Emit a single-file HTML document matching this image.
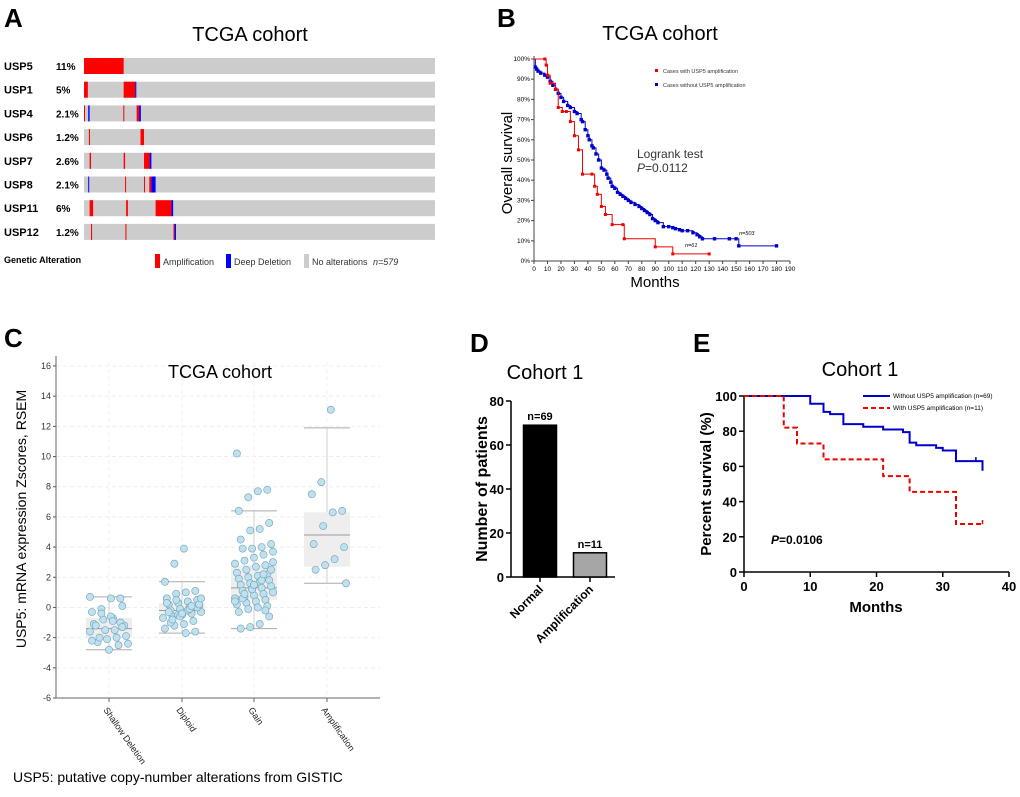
<!DOCTYPE html>
<html><head><meta charset="utf-8"><style>
body{margin:0;background:#fff}
svg{display:block;font-family:"Liberation Sans",Arial,sans-serif}
</style></head><body>
<svg id="fig" width="1020" height="797" viewBox="0 0 1020 797" xmlns="http://www.w3.org/2000/svg">
<g id="pa">
<text x="4" y="27" font-size="26" font-weight="bold">A</text>
<text x="250" y="41" font-size="20" text-anchor="middle">TCGA cohort</text>
</g>
<g id="pb">
<text x="497" y="27" font-size="26" font-weight="bold">B</text>
<text x="660" y="40" font-size="20" text-anchor="middle">TCGA cohort</text>
</g>
<g id="pc">
<text x="4" y="347" font-size="26" font-weight="bold">C</text>
</g>
<g id="pd">
<text x="470" y="352" font-size="26" font-weight="bold">D</text>
<text x="545" y="379" font-size="20" text-anchor="middle">Cohort 1</text>
</g>
<g id="pe">
<text x="693" y="352" font-size="26" font-weight="bold">E</text>
<text x="860" y="376" font-size="20" text-anchor="middle">Cohort 1</text>
</g>
</svg>
<script>
// ---- Panel A data ----
const genes=["USP5","USP1","USP4","USP6","USP7","USP8","USP11","USP12"];
const genePct=["11%","5%","2.1%","1.2%","2.6%","2.1%","6%","1.2%"];
// alteration segments: [startFrac, endFrac, type] a=amp d=deep
const geneAlts=[
 [[0,0.113,"a"]],
 [[0,0.011,"a"],[0.113,0.146,"a"],[0.146,0.149,"d"]],
 [[0,0.002,"a"],[0.012,0.016,"d"],[0.112,0.114,"a"],[0.150,0.157,"a"],[0.157,0.162,"d"]],
 [[0.014,0.017,"a"],[0.161,0.171,"a"]],
 [[0.016,0.020,"a"],[0.113,0.117,"a"],[0.171,0.187,"a"],[0.187,0.192,"d"]],
 [[0.012,0.014,"d"],[0.117,0.119,"a"],[0.171,0.173,"a"],[0.186,0.192,"a"],[0.192,0.204,"d"]],
 [[0.016,0.026,"a"],[0.120,0.125,"a"],[0.204,0.249,"a"],[0.249,0.254,"d"]],
 [[0.020,0.023,"a"],[0.118,0.121,"a"],[0.255,0.258,"a"],[0.258,0.262,"d"]]
];
// ---- Panel B data ----
const tcgaAmpT=[0,8,9,10,12,16,18,21,24,27,30,33,36,43,45,47,50,53,58,66,67,90,103,130];
const tcgaAmpS=[100,100,97,92,88,85,76,74,74,69,62,55,43,43,37,33,27,23,18,18,11,7,3.5,3.5];
const tcgaNoT=[0,1,2,3,5,8,10,12,14,16,18,20,22,25,27,30,32,35,36,38,40,41,43,44,46,48,50,52,54,55,57,58,60,62,64,66,68,70,72,75,78,80,82,84,86,88,90,92,96,100,103,105,108,110,114,118,121,123,125,134,145,150,152,180];
const tcgaNoS=[100,96,95,94,93,92,91,89,87,85,83,81,79,77,76,74,73,70,69,65,62,60,57,56,53,50,46,45,43,41,39,37,36,34,33,32,31,30,29,28,27,26,25,24,23,21,20,19,17,17,16.5,16,15.5,15,15,14,13,12,11,11,11,11,7.5,7.5];
const bXTicks=[0,10,20,30,40,50,60,70,80,90,100,110,120,130,140,150,160,170,180,190];
const bYTicks=[0,10,20,30,40,50,60,70,80,90,100];
// ---- Panel C data ----
const cCats=["Shallow Deletion","Diploid","Gain","Amplification"];
const cVals=[
 [0.7,0.6,0.6,-0.1,-0.3,0.1,-0.7,-0.8,-1.1,-1.2,-1.5,-1.5,-1.2,-1.9,-2.0,-2.1,-2.3,-2.4,-2.5,-2.8,-2.0,-1.6,-1.0,-0.6,-0.4,-2.2,-1.3,-0.9],
 [3.9,2.9,1.7,1.1,1.0,0.9,0.6,0.5,0.4,0.3,0.2,0.1,0,-0.1,-0.2,-0.3,-0.4,-0.5,-0.6,-0.7,-0.9,-1.1,-1.2,-1.4,-1.6,-1.7,0.5,0.3,0,-0.2,-0.5,-0.3,0.2,-0.1,-0.6,-1.0,0.6,0.1,-0.4,-0.8],
 [10.2,7.8,7.7,7.3,6.4,5.6,5.2,5.1,4.5,4.2,4.0,3.9,3.9,3.7,3.5,3.3,3.1,2.9,2.8,2.7,2.5,2.3,2.2,2.1,2.0,1.9,1.8,1.7,1.6,1.5,1.4,1.3,1.2,1.1,1.0,0.9,0.8,0.7,0.6,0.5,0.4,0.3,0.2,0.1,0.0,-0.1,-0.3,-0.6,-1.1,-1.3,-1.4,2.5,1.8,1.2,0.6,3.0,2.2,1.5,0.9,0.4,-0.2],
 [13.1,8.3,7.5,6.4,6.3,5.4,4.2,4.0,3.2,2.8,2.5,1.6]
];
const cQ1=[-2.0,-0.5,0.5,2.7];
const cMed=[-1.4,-0.2,1.3,4.8];
const cQ3=[-0.7,0.3,2.8,6.3];
const cLo=[-2.8,-1.7,-1.4,1.6];
const cHi=[0.7,1.7,6.4,11.9];
const cYTicks=[-6,-4,-2,0,2,4,6,8,10,12,14,16];
// ---- Panel D data ----
const dCats=["Normal","Amplification"];
const dVals=[69,11];
const dLabels=["n=69","n=11"];
const dYTicks=[0,20,40,60,80];
// ---- Panel E data ----
const eNoT=[0,10,12,13,15,18,21,24,25,26,29,30,32,36];
const eNoS=[100,95.6,91,89.7,84,82.5,81,79.5,73.5,72,70.5,69,63,57.5];
const eAmpT=[0,6,8,12,21,25,32,36];
const eAmpS=[100,82,73,64,54.5,45.5,27.3,27.3];
const eXTicks=[0,10,20,30,40];
const eYTicks=[0,20,40,60,80,100];

const NS="http://www.w3.org/2000/svg";
function mk(tag,attrs,parent,text){const e=document.createElementNS(NS,tag);for(const k in attrs)e.setAttribute(k,attrs[k]);if(text!==undefined)e.textContent=text;parent.appendChild(e);return e;}
function stepPath(T,S,x,y){let d="M"+x(T[0])+","+y(S[0]);for(let i=1;i<T.length;i++){d+="H"+x(T[i])+"V"+y(S[i]);}return d;}

// ===== Panel A =====
(function(){
const g=document.getElementById('pa');
const x0=84,x1=435,top=58,pitch=23.7,h=16;
genes.forEach((gn,i)=>{
 const y=top+i*pitch;
 const t=mk('text',{x:4,y:y+12,'font-size':11,'font-weight':'bold'},g,gn);
 
 
 const p=mk('text',{x:56,y:y+12,'font-size':10,'font-weight':'bold'},g,genePct[i]);
 
 
 const r=mk('rect',{x:x0,y:y,width:x1-x0,height:h,fill:'#cccccc'},g);
 
 
 geneAlts[i].forEach(s=>{
  const a=mk('rect',{x:x0+s[0]*(x1-x0),y:y,width:Math.max(1,(s[1]-s[0])*(x1-x0)),height:h,fill:s[2]==='a'?'#ff0000':'#0000ff'},g);
  
  
 });
});
const ly=254;
let t=mk('text',{x:4,y:ly+9,'font-size':9,'font-weight':'bold'},g,'Genetic Alteration');

const items=[[155,'#ff0000','Amplification'],[226,'#0000ff','Deep Deletion'],[304,'#cccccc','No alterations']];
items.forEach(it=>{
 const r=mk('rect',{x:it[0],y:ly,width:5,height:14,fill:it[1]},g);
 
 const tt=mk('text',{x:it[0]+8,y:ly+11,'font-size':9,fill:'#333'},g,it[2]);
 
});
t=mk('text',{x:373,y:ly+11,'font-size':9,'font-style':'italic',fill:'#333'},g,'n=579');

})();

// ===== Panel B =====
(function(){
const g=document.getElementById('pb');
const x=t=>534+t*256/190, y=s=>261-s*2.02;
const ax=mk('path',{d:'M534,56V261H790',stroke:'#444',fill:'none','stroke-width':1},g);

bXTicks.forEach(v=>{
 mk('line',{x1:x(v),x2:x(v),y1:261,y2:264,stroke:'#444'},g);
 const t=mk('text',{x:x(v),y:271,'font-size':6.5,'text-anchor':'middle'},g,v);
 
});
bYTicks.forEach(v=>{
 mk('line',{x1:531,x2:534,y1:y(v),y2:y(v),stroke:'#444'},g);
 const t=mk('text',{x:530,y:y(v)+2,'font-size':6.5,'text-anchor':'end'},g,v+'%');
 
});
const series=[[tcgaNoT,tcgaNoS,'#0000cc','blue-curve',3.4],[tcgaAmpT,tcgaAmpS,'#ee0000','red-curve',3]];
series.forEach(s=>{
 const p=mk('path',{d:stepPath(s[0],s[1],x,y),stroke:s[2],fill:'none','stroke-width':1},g);
 
 s[0].forEach((tt,i)=>{ if(i===0)return;
  const c=mk('rect',{x:x(tt)-s[4]/2,y:y(s[1][i])-s[4]/2,width:s[4],height:s[4],fill:s[2]},g);
  
 });
});
[[71,'#ee0000','Cases with USP5 amplification'],[85,'#0000cc','Cases without USP5 amplification']].forEach(l=>{
 const r=mk('rect',{x:655,y:l[0]-2,width:3,height:3,fill:l[1]},g);
 
 const t=mk('text',{x:663,y:l[0]+2,'font-size':5.5,fill:'#333'},g,l[2]);
 
});
let t=mk('text',{x:637,y:158,'font-size':12,fill:'#333'},g,'Logrank test');

t=mk('text',{x:637,y:172,'font-size':12,fill:'#333'},g,'');
t.innerHTML='<tspan font-style="italic">P</tspan>=0.0112';

t=mk('text',{x:739,y:235,'font-size':5.5,'font-style':'italic'},g,'n=503');

t=mk('text',{x:685,y:247,'font-size':5.5,'font-style':'italic'},g,'n=61');

t=mk('text',{x:655,y:287,'font-size':15,'text-anchor':'middle'},g,'Months');

t=mk('text',{x:0,y:0,'font-size':15,'text-anchor':'middle',transform:'translate(512,163) rotate(-90)'},g,'Overall survival');

})();

// ===== Panel C =====
(function(){
const g=document.getElementById('pc');
const X0=56,X1=380;
const y=v=>698-(v+6)*332/22;
const cx=[109,182,254,327];
cYTicks.forEach(v=>{
 const gl=mk('line',{x1:X0,x2:X1,y1:y(v),y2:y(v),stroke:'#eeeeee','stroke-dasharray':'4,3'},g);
 
 mk('line',{x1:X0-3,x2:X0,y1:y(v),y2:y(v),stroke:'#555'},g);
 const t=mk('text',{x:X0-5,y:y(v)+3,'font-size':9,'text-anchor':'end',fill:'#333'},g,v);
 
});
cx.forEach(c=>mk('line',{x1:c,x2:c,y1:362,y2:698,stroke:'#f2f2f2','stroke-dasharray':'4,3'},g));
const ax=mk('path',{d:'M'+X0+',356V698H'+X1,stroke:'#666',fill:'none'},g);

let t=mk('text',{x:220,y:378,'font-size':18,'text-anchor':'middle'},g,'TCGA cohort');

cCats.forEach((cat,i)=>{
 const c=cx[i],hw=23;
 mk('line',{x1:c,x2:c,y1:y(cHi[i]),y2:y(cLo[i]),stroke:'#d0d0d0'},g);
 const b=mk('rect',{x:c-hw,y:y(cQ3[i]),width:2*hw,height:y(cQ1[i])-y(cQ3[i]),fill:'#eeeeee'},g);
 
 mk('line',{x1:c-hw,x2:c+hw,y1:y(cMed[i]),y2:y(cMed[i]),stroke:'#999'},g);
 mk('line',{x1:c-hw,x2:c+hw,y1:y(cHi[i]),y2:y(cHi[i]),stroke:'#aaa'},g);
 mk('line',{x1:c-hw,x2:c+hw,y1:y(cLo[i]),y2:y(cLo[i]),stroke:'#aaa'},g);
 cVals[i].forEach((v,j)=>{
  const jit=((j*37+i*11)%21-10)*1.9;
  const p=mk('circle',{cx:c+jit,cy:y(v),r:3.6,fill:'#bfe0ee',stroke:'#6f9fb5','stroke-width':0.6},g);
  
 });
 mk('line',{x1:c,x2:c,y1:698,y2:702,stroke:'#666'},g);
 const tl=mk('text',{x:0,y:0,'font-size':9,transform:'translate('+(c-6)+',710) rotate(55)',fill:'#222'},g,cat);
 
});
t=mk('text',{x:0,y:0,'font-size':14,'text-anchor':'middle',transform:'translate(26,519) rotate(-90)'},g,'USP5: mRNA expression Zscores, RSEM');

t=mk('text',{x:13,y:782,'font-size':14},g,'USP5: putative copy-number alterations from GISTIC');

})();

// ===== Panel D =====
(function(){
const g=document.getElementById('pd');
const y=v=>577-v*176/80;
const cx=[540,590],bw=33;
const ax=mk('path',{d:'M511,401V577H615',stroke:'#000',fill:'none','stroke-width':1.5},g);

dYTicks.forEach(v=>{
 mk('line',{x1:506,x2:511,y1:y(v),y2:y(v),stroke:'#000','stroke-width':1.5},g);
 const t=mk('text',{x:504,y:y(v)+5,'font-size':13,'font-weight':'bold','text-anchor':'end'},g,v);
 
});
dCats.forEach((c,i)=>{
 const b=mk('rect',{x:cx[i]-bw/2,y:y(dVals[i]),width:bw,height:577-y(dVals[i]),fill:i===0?'#000':'#a6a6a6',stroke:'#000','stroke-width':1.5},g);
 
 const l=mk('text',{x:cx[i],y:y(dVals[i])-5,'font-size':11,'font-weight':'bold','text-anchor':'middle'},g,dLabels[i]);
 
 mk('line',{x1:cx[i],x2:cx[i],y1:577,y2:582,stroke:'#000','stroke-width':1.5},g);
 const t=mk('text',{x:0,y:0,'font-size':12,'font-weight':'bold','text-anchor':'end',transform:'translate('+(cx[i]+4)+',590) rotate(-45)'},g,c);
 
});
const t=mk('text',{x:0,y:0,'font-size':16,'font-weight':'bold','text-anchor':'middle',transform:'translate(487,489) rotate(-90)'},g,'Number of patients');

})();

// ===== Panel E =====
(function(){
const g=document.getElementById('pe');
const x=t=>744+t*265/40, y=s=>572-s*1.76;
const ax=mk('path',{d:'M744,396V572H1009',stroke:'#000',fill:'none','stroke-width':1.5},g);

eXTicks.forEach(v=>{
 mk('line',{x1:x(v),x2:x(v),y1:572,y2:577,stroke:'#000','stroke-width':1.5},g);
 const t=mk('text',{x:x(v),y:591,'font-size':13,'font-weight':'bold','text-anchor':'middle'},g,v);
 
});
eYTicks.forEach(v=>{
 mk('line',{x1:739,x2:744,y1:y(v),y2:y(v),stroke:'#000','stroke-width':1.5},g);
 const t=mk('text',{x:737,y:y(v)+5,'font-size':13,'font-weight':'bold','text-anchor':'end'},g,v);
 
});
let p=mk('path',{d:stepPath(eNoT,eNoS,x,y),stroke:'#0000cc',fill:'none','stroke-width':2},g);

p=mk('path',{d:stepPath(eAmpT,eAmpS,x,y),stroke:'#ee0000',fill:'none','stroke-width':2,'stroke-dasharray':'5,3'},g);

mk('line',{x1:x(35),x2:x(35),y1:y(eNoS[eNoS.length-2])-4,y2:y(eNoS[eNoS.length-2]),stroke:'#0000cc','stroke-width':1.5},g);
mk('line',{x1:x(36),x2:x(36),y1:y(eAmpS[eAmpS.length-1])-4,y2:y(eAmpS[eAmpS.length-1]),stroke:'#ee0000','stroke-width':1.5},g);
mk('line',{x1:863,x2:890,y1:396,y2:396,stroke:'#0000cc','stroke-width':2},g);
mk('line',{x1:863,x2:890,y1:408,y2:408,stroke:'#ee0000','stroke-width':2,'stroke-dasharray':'5,3'},g);
let t=mk('text',{x:893,y:398,'font-size':6.5},g,'Without USP5 amplification (n=69)');

t=mk('text',{x:893,y:410,'font-size':6.5},g,'With USP5 amplification (n=11)');

t=mk('text',{x:771,y:544,'font-size':12,'font-weight':'bold'},g,'');
t.innerHTML='<tspan font-style="italic">P</tspan>=0.0106';

t=mk('text',{x:876,y:612,'font-size':15,'font-weight':'bold','text-anchor':'middle'},g,'Months');

t=mk('text',{x:0,y:0,'font-size':15,'font-weight':'bold','text-anchor':'middle',transform:'translate(711,484) rotate(-90)'},g,'Percent survival (%)');

})();
</script>
</body></html>
